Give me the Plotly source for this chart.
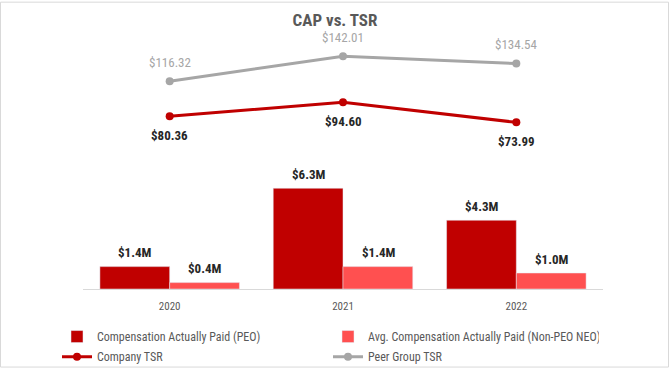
import plotly.graph_objects as go

years = ["2020", "2021", "2022"]
cap_peo = [1.4, 6.3, 4.3]
cap_neo = [0.4, 1.4, 1.0]
company_tsr = [80.36, 94.60, 73.99]
peer_tsr = [116.32, 142.01, 134.54]

W, H = 670, 383
ML, MR, MT, MB = 83, 67, 40, 83
PW, PH = W - ML - MR, H - MT - MB

FONT = "Liberation Sans Narrow, Arial Narrow, Roboto Condensed, Roboto, Liberation Sans, sans-serif"
DARK = "#C00000"
LIGHT = "#FF5050"
GREY = "#A6A6A6"
LBL = dict(size=13, color="#262626", family=FONT, weight="bold")

fig = go.Figure()
fig.add_trace(go.Bar(x=years, y=cap_peo, name="Compensation Actually Paid (PEO)",
                     marker_color=DARK, legend="legend"))
fig.add_trace(go.Bar(x=years, y=cap_neo, name="Avg. Compensation Actually Paid (Non-PEO NEO)",
                     marker_color=LIGHT, legend="legend"))
fig.add_trace(go.Scatter(x=years, y=company_tsr, name="Company TSR", yaxis="y2",
                         mode="lines+markers", line=dict(color=DARK, width=3),
                         marker=dict(size=8, color=DARK), cliponaxis=False, legend="legend2"))
fig.add_trace(go.Scatter(x=years, y=peer_tsr, name="Peer Group TSR", yaxis="y2",
                         mode="lines+markers", line=dict(color=GREY, width=3),
                         marker=dict(size=8, color=GREY), cliponaxis=False, legend="legend2"))

ann = []
for i, v in enumerate(cap_peo):
    ann.append(dict(x=i, y=v, xref="x", yref="y", text=f"${v:.1f}M", showarrow=False,
                    xshift=-35, yshift=14, font=LBL))
for i, v in enumerate(cap_neo):
    ann.append(dict(x=i, y=v, xref="x", yref="y", text=f"${v:.1f}M", showarrow=False,
                    xshift=35, yshift=14, font=LBL))
for i, v in enumerate(company_tsr):
    ann.append(dict(x=i, y=v, xref="x", yref="y2", text=f"${v:.2f}", showarrow=False,
                    yshift=-19, font=LBL))
for i, v in enumerate(peer_tsr):
    ann.append(dict(x=i, y=v, xref="x", yref="y2", text=f"${v:.2f}", showarrow=False,
                    yshift=19, font=dict(size=13, color=GREY, family=FONT)))

bar_ppu = 16.7
tsr_ppu = 1.0144
y2_top = 73.99 + (126 - MT) / tsr_ppu
y2_bot = 73.99 - (MT + PH - 126) / tsr_ppu

legend_common = dict(orientation="h", x=(57 - ML) / PW, xanchor="left", yanchor="top",
                     entrywidth=226, font=dict(size=12, color="#595959", family=FONT),
                     itemwidth=30, bgcolor="rgba(0,0,0,0)")

fig.update_layout(
    width=W, height=H, autosize=False, margin=dict(l=ML, r=MR, t=MT, b=MB),
    paper_bgcolor="white", plot_bgcolor="white",
    font=dict(family=FONT, color="#595959"),
    title=dict(text="<b>CAP vs. TSR</b>", x=0.5, xanchor="center", y=1 - 20 / H, yanchor="middle",
               font=dict(size=17, color="#595959", family=FONT)),
    barmode="group", bargap=0.195, bargroupgap=0,
    xaxis=dict(type="category", range=[-0.5, 2.5], showgrid=False, showline=True,
               linecolor="#D9D9D9", linewidth=1, ticks="", ticklabelstandoff=7,
               tickfont=dict(size=11, color="#595959")),
    yaxis=dict(range=[0, PH / bar_ppu], visible=False, showgrid=False),
    yaxis2=dict(range=[y2_bot, y2_top], overlaying="y", visible=False, showgrid=False),
    legend=dict(legend_common, y=-(334.5 - MT - PH) / PH),
    legend2=dict(legend_common, y=-(355.5 - MT - PH) / PH),
    annotations=ann,
    shapes=[dict(type="rect", xref="paper", yref="paper",
                 x0=-(ML - 0.5) / PW, x1=1 + (MR - 1.5) / PW,
                 y0=-(MB - 1.5) / PH, y1=1 + (MT - 0.5) / PH,
                 line=dict(color="#D9D9D9", width=1), layer="below")],
    showlegend=True,
)

post = ("document.body.style.margin='0';document.body.style.overflow='hidden';"
        "var gd=document.getElementById('{plot_id}');"
        "Plotly.relayout(gd,{width:670,height:383});")
fig.write_html("out.html", config={"displayModeBar": False, "responsive": False},
               post_script=post)
